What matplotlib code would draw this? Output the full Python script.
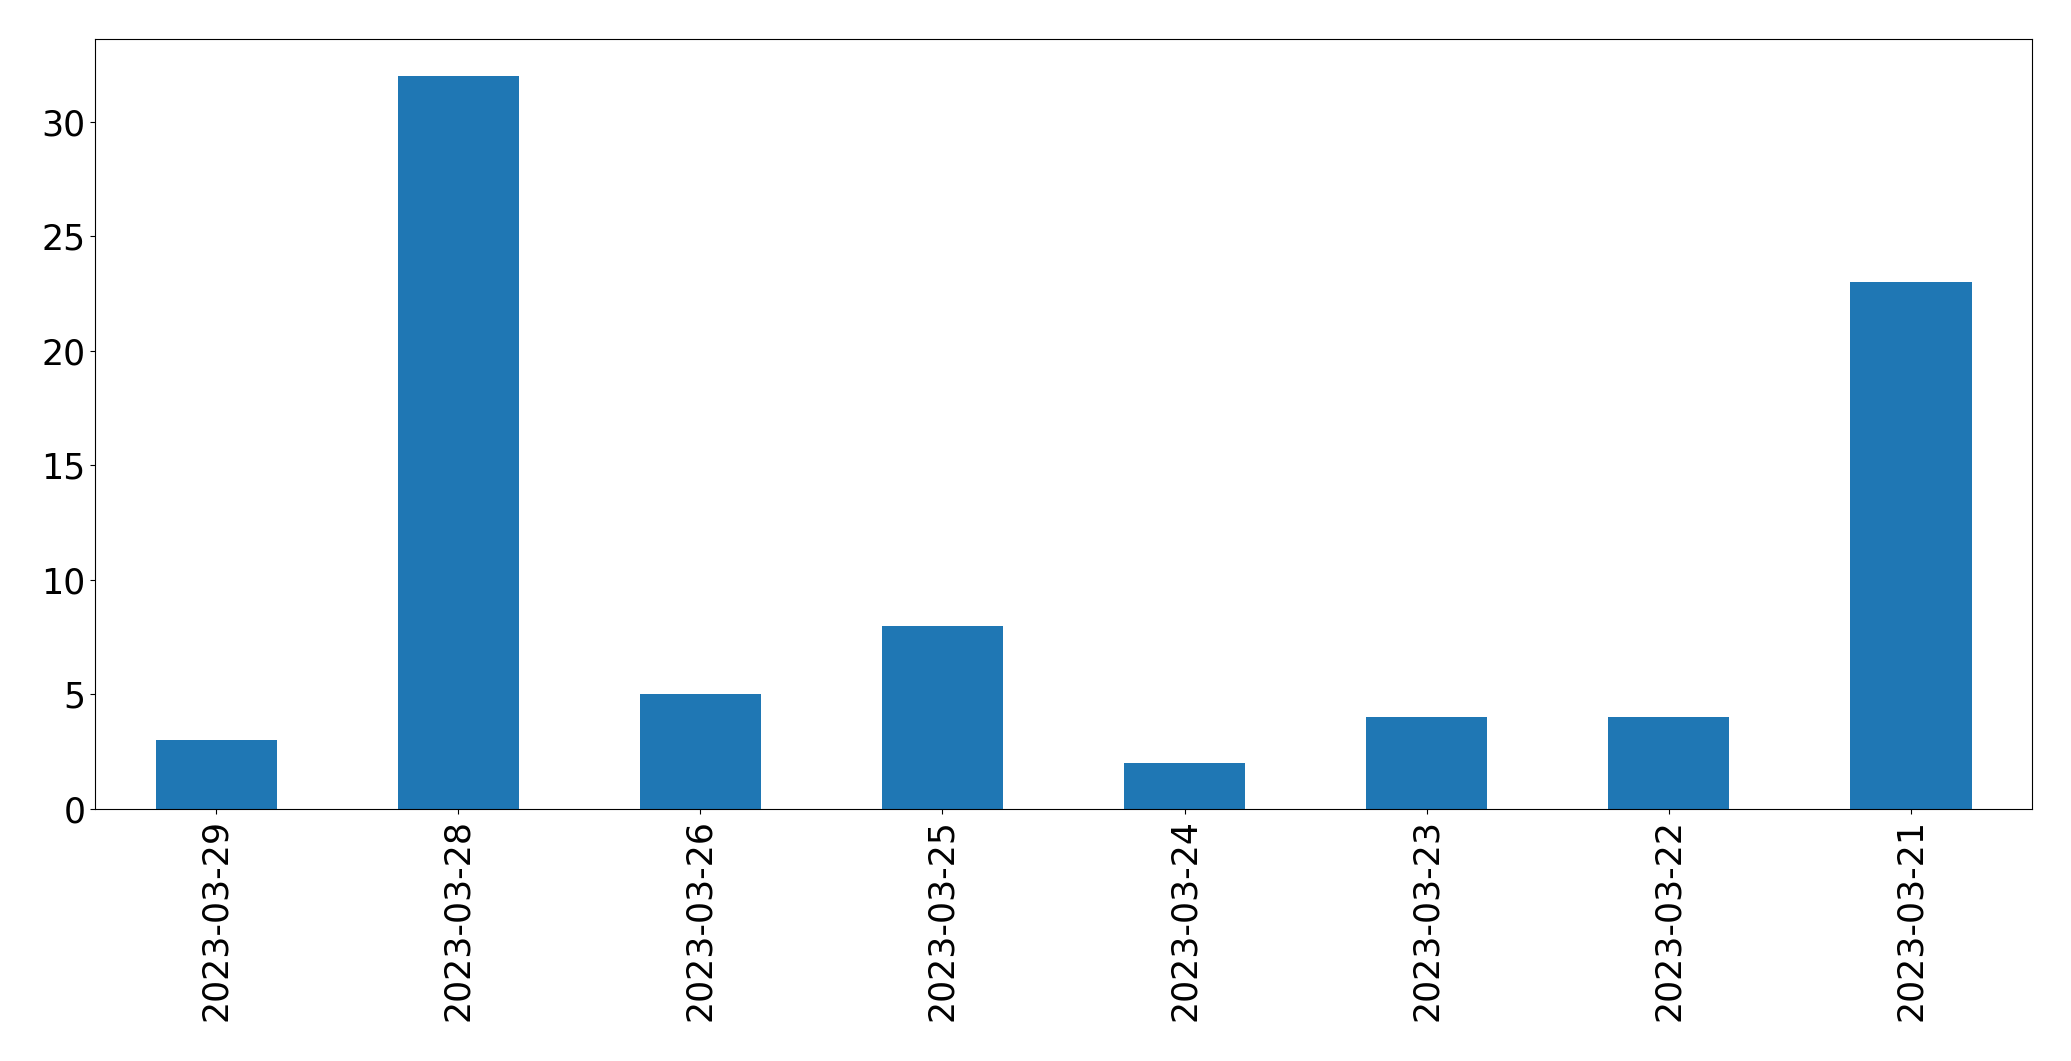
import matplotlib
matplotlib.use('Agg')
import matplotlib.pyplot as plt
import pandas as pd

dates = ['2023-03-29', '2023-03-28', '2023-03-26', '2023-03-25',
         '2023-03-24', '2023-03-23', '2023-03-22', '2023-03-21']
counts = [3, 32, 5, 8, 2, 4, 4, 23]

s = pd.Series(counts, index=dates)

fig = plt.figure(figsize=(20.71, 10.61), dpi=100)
ax = fig.add_axes([0.0459, 0.2375, 0.9353, 0.7257])
s.plot(kind='bar', ax=ax, color='#1f77b4', fontsize=25)
ax.set_xlabel('')
fig.savefig('out.png', dpi=100)
